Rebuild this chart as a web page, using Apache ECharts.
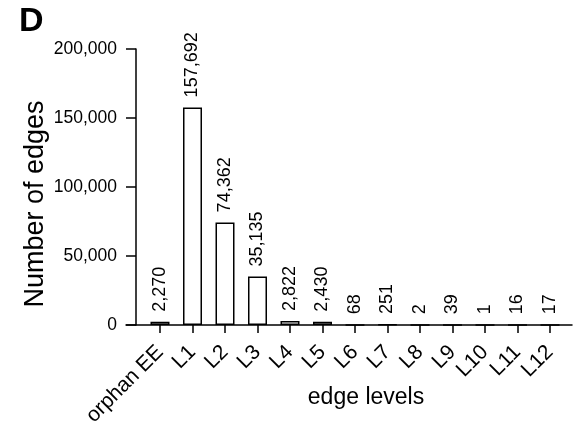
<!DOCTYPE html>
<html>
<head>
<meta charset="utf-8">
<script src="https://cdn.jsdelivr.net/npm/echarts@6/dist/echarts.min.js"></script>
<style>html,body{margin:0;padding:0;background:#fff;}#c{width:580px;height:423px;}</style>
</head>
<body>
<div id="c"></div>
<script>
const categories = ['orphan EE','L1','L2','L3','L4','L5','L6','L7','L8','L9','L10','L11','L12'];
const edgeCounts = [2270,157692,74362,35135,2822,2430,68,251,2,39,1,16,17];
const yTicks = [0,50000,100000,150000,200000];

const FONT = "'Liberation Sans', Arial, Helvetica, sans-serif";
const chart = echarts.init(document.getElementById('c'), null, {renderer:'canvas'});
chart.setOption({
  animation:false,
  backgroundColor:'#fff',
  title:{text:'D', left:14, top:0, textStyle:{fontFamily:FONT, fontSize:34, fontWeight:'bold', color:'#000'}},
  grid:[
    {left:143.75, right:13.75, top:49, bottom:98, containLabel:false, outerBoundsMode:'none'},
    {left:126, right:8, top:49, bottom:98, containLabel:false, outerBoundsMode:'none'}
  ],
  xAxis:[
    {type:'category', gridIndex:0, data:categories,
     axisLine:{show:false},
     axisTick:{show:true, alignWithLabel:true, length:8, lineStyle:{color:'#000', width:1.5}},
     axisLabel:{rotate:45, margin:24, fontFamily:FONT, fontSize:21, color:'#000', interval:0},
     name:'edge levels', nameLocation:'middle', nameGap:61, nameMoveOverlap:false,
     nameTextStyle:{fontFamily:FONT, fontSize:23, color:'#000', padding:[0,0,0,22]}},
    {type:'value', gridIndex:1, min:0, max:1,
     axisLine:{show:true, lineStyle:{color:'#000', width:1.5}},
     axisTick:{show:false}, axisLabel:{show:false}, splitLine:{show:false}}
  ],
  yAxis:[
    {type:'value', gridIndex:0, min:yTicks[0], max:yTicks[yTicks.length-1], interval:yTicks[1]-yTicks[0], offset:7.75,
     axisLine:{show:true, lineStyle:{color:'#000', width:1.5}},
     axisTick:{show:true, length:10, lineStyle:{color:'#000', width:1.5}},
     axisLabel:{margin:19, fontFamily:FONT, fontSize:17.5, color:'#000',
       formatter:v=>v.toLocaleString('en-US')},
     splitLine:{show:false},
     name:'Number of edges', nameLocation:'middle', nameGap:87, nameMoveOverlap:false,
     nameTextStyle:{fontFamily:FONT, fontSize:27, color:'#000', padding:[0,34,0,0]}},
    {type:'value', gridIndex:1, show:false}
  ],
  series:[{
    type:'bar', xAxisIndex:0, yAxisIndex:0, data:edgeCounts, barWidth:19,
    itemStyle:{color:'#fff', borderColor:'#000', borderWidth:1.5},
    label:{show:true, position:'top', rotate:90, distance:10, align:'left', verticalAlign:'middle',
      fontFamily:FONT, fontSize:18, color:'#000',
      formatter:p=>p.value.toLocaleString('en-US')}
  }]
});
</script>
</body>
</html>
